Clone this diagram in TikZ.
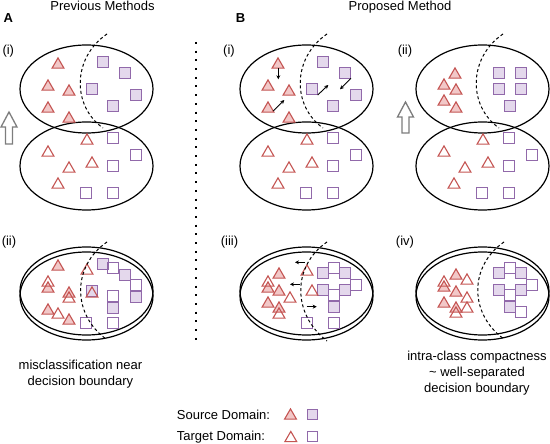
\documentclass[tikz,border=0pt]{standalone}
\usepackage{fontspec}
\setmainfont{Liberation Sans}
\usetikzlibrary{arrows.meta}
\definecolor{tred}{RGB}{196,84,82}
\definecolor{tpink}{RGB}{242,200,200}
\definecolor{tpur}{RGB}{145,105,170}
\definecolor{tlav}{RGB}{228,216,236}
\definecolor{tgray}{RGB}{125,125,125}
\tikzset{
  ell/.style={line width=1.2pt, black},
  bnd/.style={line width=1pt, dash pattern=on 3pt off 2.5pt},
  srcT/.style={draw=tred, fill=tpink, line width=1.1pt, line join=miter},
  tgtT/.style={draw=tred, line width=1.1pt},
  srcS/.style={draw=tpur, fill=tlav, line width=1.1pt},
  tgtS/.style={draw=tpur, line width=1.1pt},
  txt/.style={inner sep=0pt, font=\fontsize{13}{16}\selectfont},
  blk/.style={-{Stealth[length=4pt,width=4pt]}, line width=0.9pt},
  uparr/.style={draw=tgray, fill=white, line width=1.3pt, line join=miter},
}
\newcommand\sTri[2]{\draw[srcT,shift={(#1,#2)}] (-5.9,5.1) -- (5.9,5.1) -- (0,-5.1) -- cycle;}
\newcommand\tTri[2]{\draw[tgtT,shift={(#1,#2)}] (-5.9,5.1) -- (5.9,5.1) -- (0,-5.1) -- cycle;}
\newcommand\sSq[2]{\draw[srcS,shift={(#1,#2)}] (-5.3,-5.3) rectangle (5.3,5.3);}
\newcommand\tSq[2]{\draw[tgtS,shift={(#1,#2)}] (-5.3,-5.3) rectangle (5.3,5.3);}
\begin{document}
\begin{tikzpicture}[x=1pt,y=-1pt]
\useasboundingbox (0,0) rectangle (550,444);

% ---------- titles and labels
\node[txt,anchor=base] (tPrev) at (102.5,10.5) {Previous Methods};
\node[txt,anchor=base] (tProp) at (400,10.5) {Proposed Method};
\node[txt,anchor=base,font=\fontsize{13}{16}\selectfont\bfseries] (lA) at (8.3,23) {A};
\node[txt,anchor=base,font=\fontsize{13}{16}\selectfont\bfseries] (lB) at (240.5,23) {B};
\node[txt,anchor=base] (lAi) at (8.3,55) {(i)};
\node[txt,anchor=base] (lAii) at (9,245) {(ii)};
\node[txt,anchor=base] (lBi) at (229,55) {(i)};
\node[txt,anchor=base] (lBii) at (405,55) {(ii)};
\node[txt,anchor=base] (lBiii) at (229.5,245) {(iii)};
\node[txt,anchor=base] (lBiv) at (405,246) {(iv)};

% ---------- separator
\draw[line width=2pt, dash pattern=on 2pt off 6.7pt] (196,42) -- (196,342);

% ---------- up arrows
\draw[uparr] (9,112) -- (17,127) -- (12.5,127) -- (12.5,144) -- (5.5,144) -- (5.5,127) -- (1,127) -- cycle;
\draw[uparr] (405.5,102) -- (413.5,117) -- (409,117) -- (409,133) -- (402,133) -- (402,117) -- (397.5,117) -- cycle;

% ================= A (i)
\draw[ell] (86.5,89) ellipse [x radius=66.5, y radius=44];
\draw[ell] (86.5,166) ellipse [x radius=66.5, y radius=44];
\foreach \x/\y in {58/63,48/85,69/90,48/107,69/117} {\sTri{\x}{\y}}
\foreach \x/\y in {103/62,125/73,92/89,136/95,113/106} {\sSq{\x}{\y}}
\foreach \x/\y in {87/139,48/151,92/162,69/167,58/183} {\tTri{\x}{\y}}
\foreach \x/\y in {113/138,136/155,113/166,86/193,113/193} {\tSq{\x}{\y}}
\draw[bnd] (107,34) .. controls (72,58) and (72,106) .. (103,128);

% ================= A (ii)
\draw[ell] (86.5,291) ellipse [x radius=66.5, y radius=44];
\draw[ell] (86.5,296) ellipse [x radius=66.5, y radius=44];
\foreach \x/\y in {58/265,48/287,69/292,48/309,69/319} {\sTri{\x}{\y}}
\foreach \x/\y in {103/264,125/275,92/291,136/297,113/308} {\sSq{\x}{\y}}
\foreach \x/\y in {87/269,48/281,92/292,69/297,58/313} {\tTri{\x}{\y}}
\foreach \x/\y in {113/268,136/285,113/296,86/323,113/323} {\tSq{\x}{\y}}
\draw[bnd] (107,242) .. controls (72,266) and (72,314) .. (106,339);

% ================= B (i)
\draw[ell] (306.5,89) ellipse [x radius=66.5, y radius=44];
\draw[ell] (306.5,166) ellipse [x radius=66.5, y radius=44];
\foreach \x/\y in {278/63,268/85,289/90,268/107,289/117} {\sTri{\x}{\y}}
\foreach \x/\y in {323/62,345/73,312/89,356/95,333/106} {\sSq{\x}{\y}}
\foreach \x/\y in {307/139,268/151,312/162,289/167,278/183} {\tTri{\x}{\y}}
\foreach \x/\y in {333/138,356/155,333/166,306/193,333/193} {\tSq{\x}{\y}}
\draw[bnd] (327,34) .. controls (292,58) and (292,106) .. (323,128);
\coordinate (a1s) at (278.3,68.3); \coordinate (a1e) at (278.3,79.3);
\coordinate (a2s) at (273.3,111); \coordinate (a2e) at (284.3,100);
\coordinate (a3s) at (317.7,95); \coordinate (a3e) at (328.3,85);
\coordinate (a4s) at (351,78.3); \coordinate (a4e) at (340,89.3);
\draw[blk] (a1s) -- (a1e);
\draw[blk] (a2s) -- (a2e);
\draw[blk] (a3s) -- (a3e);
\draw[blk] (a4s) -- (a4e);

% ================= B (ii)
\draw[ell] (482.5,89) ellipse [x radius=66.5, y radius=44];
\draw[ell] (482.5,166) ellipse [x radius=66.5, y radius=44];
\foreach \x/\y in {455/73,444/84,456/89,444/100,456/107} {\sTri{\x}{\y}}
\foreach \x/\y in {499/73,521/73,499/89,521/89,510/106} {\sSq{\x}{\y}}
\foreach \x/\y in {483/139,444/151,488/162,465/167,454/183} {\tTri{\x}{\y}}
\foreach \x/\y in {509/138,532/155,509/166,482/193,509/193} {\tSq{\x}{\y}}
\draw[bnd] (503,34) .. controls (468,58) and (468,106) .. (499,128);

% ================= B (iii)
\draw[ell] (306.5,291) ellipse [x radius=66.5, y radius=44];
\draw[ell] (306.5,296) ellipse [x radius=66.5, y radius=44];
\foreach \x/\y in {279/273,268/287,279/290,268/302,279/307} {\sTri{\x}{\y}}
\foreach \x/\y in {323/273,345/273,323/290,345/290,334/307} {\sSq{\x}{\y}}
\foreach \x/\y in {307/270,268/281,312/290,290/297,279/313} {\tTri{\x}{\y}}
\foreach \x/\y in {334/268,356/285,334/295,307/323,334/323} {\tSq{\x}{\y}}
\draw[bnd] (327,242) .. controls (292,266) and (292,314) .. (327,341);
\coordinate (b1s) at (305,262.3); \coordinate (b1e) at (295,262.3);
\coordinate (b2s) at (300,284.3); \coordinate (b2e) at (290,284.3);
\coordinate (b3s) at (306.7,306.7); \coordinate (b3e) at (316.7,306.7);
\draw[blk] (b1s) -- (b1e);
\draw[blk] (b2s) -- (b2e);
\draw[blk] (b3s) -- (b3e);

% ================= B (iv)
\draw[ell] (482.5,291) ellipse [x radius=66.5, y radius=44];
\draw[ell] (482.5,296) ellipse [x radius=66.5, y radius=44];
\foreach \x/\y in {456/274,444/286,456/291,444/302,456/307} {\sTri{\x}{\y}}
\foreach \x/\y in {499/273,521/273,499/290,521/290,510/307} {\sSq{\x}{\y}}
\foreach \x/\y in {467/279,444/281,467/297,467/307,456/312} {\tTri{\x}{\y}}
\foreach \x/\y in {510/268,532/285,510/295,521/312} {\tSq{\x}{\y}}
\draw[bnd] (504,242) .. controls (469,266) and (469,314) .. (504,339);

% ---------- captions
\node[txt,anchor=base,align=center] (capL) at (80.5,385) {misclassification near\\decision boundary};
\node[txt,anchor=base,align=center] (capR) at (477,392.5) {intra-class compactness\\\textasciitilde{} well-separated\\decision boundary};

% ---------- legend
\node[txt,anchor=base west] (legS) at (176.7,419.3) {Source Domain:};
\node[txt,anchor=base west] (legT) at (176.7,440.5) {Target Domain:};
\sTri{290.5}{414}
\sSq{312.5}{414.5}
\tTri{290.8}{436.5}
\tSq{312.5}{436.5}
\end{tikzpicture}
\end{document}
